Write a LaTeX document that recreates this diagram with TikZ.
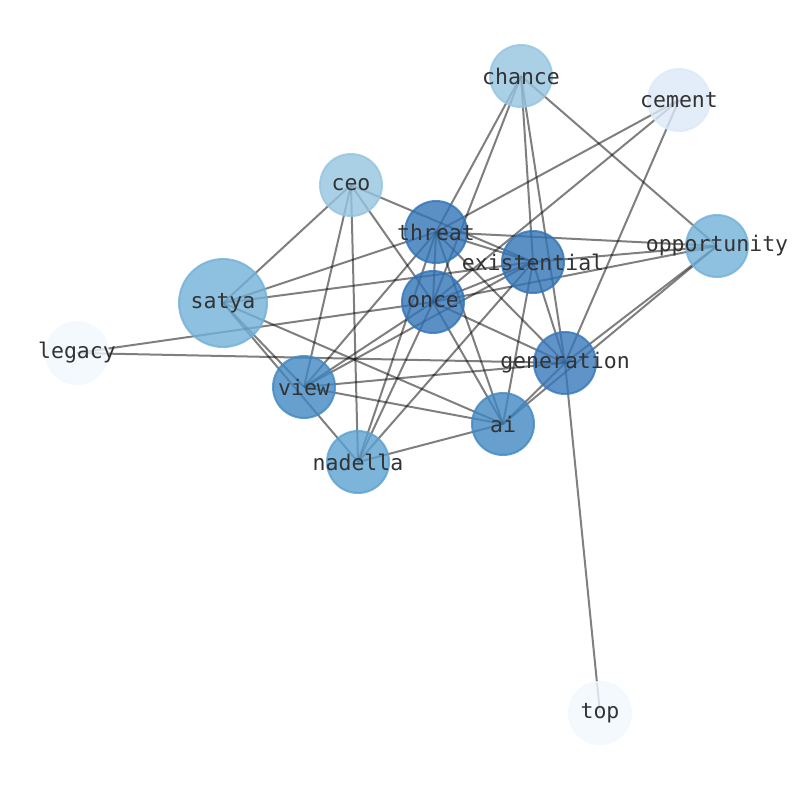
\documentclass[tikz,border=0pt]{standalone}
\usepackage{fontspec}
\setmonofont{DejaVu Sans Mono}
\begin{document}
\begin{tikzpicture}[x=1pt,y=-1pt,
  nd/.style={circle,minimum size=62pt,inner sep=0pt,line width=2pt,fill opacity=0.8,draw opacity=0.8},
  lb/.style={inner sep=0pt,text=black!80,font=\ttfamily\fontsize{21.5}{24}\selectfont},
  ed/.style={draw=black,opacity=0.5,line width=2pt}]
\useasboundingbox (0,0) rectangle (794,790);
\definecolor{cA}{HTML}{3274B7}
\definecolor{cG}{HTML}{3878BA}
\definecolor{cB}{HTML}{4188C3}
\definecolor{cN}{HTML}{5CA1D1}
\definecolor{cS}{HTML}{72B0D8}
\definecolor{cC}{HTML}{95C4E0}
\definecolor{cM}{HTML}{DCE9F8}
\definecolor{cL}{HTML}{F1F8FE}
\coordinate (chance) at (521,76);
\coordinate (cement) at (679,100);
\coordinate (ceo) at (351,185);
\coordinate (threat) at (436,232);
\coordinate (opportunity) at (717,246);
\coordinate (existential) at (533,262);
\coordinate (satya) at (223,303);
\coordinate (once) at (433,302);
\coordinate (legacy) at (77,353);
\coordinate (generation) at (565,363);
\coordinate (view) at (304,387);
\coordinate (ai) at (503,424);
\coordinate (nadella) at (358,462);
\coordinate (top) at (600,713);
\foreach \a/\b in {chance/threat,chance/once,chance/existential,chance/generation,chance/opportunity,
  cement/threat,cement/once,cement/generation,
  ceo/satya,ceo/view,ceo/nadella,ceo/once,ceo/existential,
  threat/opportunity,threat/satya,threat/existential,threat/once,threat/generation,threat/view,threat/nadella,threat/ai,
  existential/opportunity,existential/satya,existential/once,existential/view,existential/nadella,existential/ai,existential/generation,
  once/opportunity,once/legacy,once/generation,once/ai,once/view,once/nadella,
  satya/ai,satya/view,satya/nadella,legacy/generation,
  generation/view,generation/ai,generation/opportunity,generation/top,
  ai/opportunity,ai/view,ai/nadella}
  \draw[ed] (\a) -- (\b);
\node[nd,fill=cC,draw=cC] (nchance) at (chance) {};
\node[nd,fill=cM,draw=cM] (ncement) at (cement) {};
\node[nd,fill=cC,draw=cC] (nceo) at (ceo) {};
\node[nd,fill=cS,draw=cS] (nopportunity) at (opportunity) {};
\node[nd,fill=cS,draw=cS,minimum size=88pt] (nsatya) at (satya) {};
\node[nd,fill=cL,draw=cL] (nlegacy) at (legacy) {};
\node[nd,fill=cB,draw=cB] (nview) at (view) {};
\node[nd,fill=cB,draw=cB] (nai) at (ai) {};
\node[nd,fill=cN,draw=cN] (nnadella) at (nadella) {};
\node[nd,fill=cL,draw=cL] (ntop) at (top) {};
\node[nd,fill=cA,draw=cA] (nthreat) at (threat) {};
\node[nd,fill=cA,draw=cA] (nexistential) at (existential) {};
\node[nd,fill=cA,draw=cA] (nonce) at (once) {};
\node[nd,fill=cG,draw=cG] (ngeneration) at (generation) {};
\foreach \n in {chance,cement,ceo,opportunity,satya,legacy,view,ai,nadella,top,threat,existential,once,generation}
  \node[lb] (t\n) at (\n) {\n};
\end{tikzpicture}
\end{document}
